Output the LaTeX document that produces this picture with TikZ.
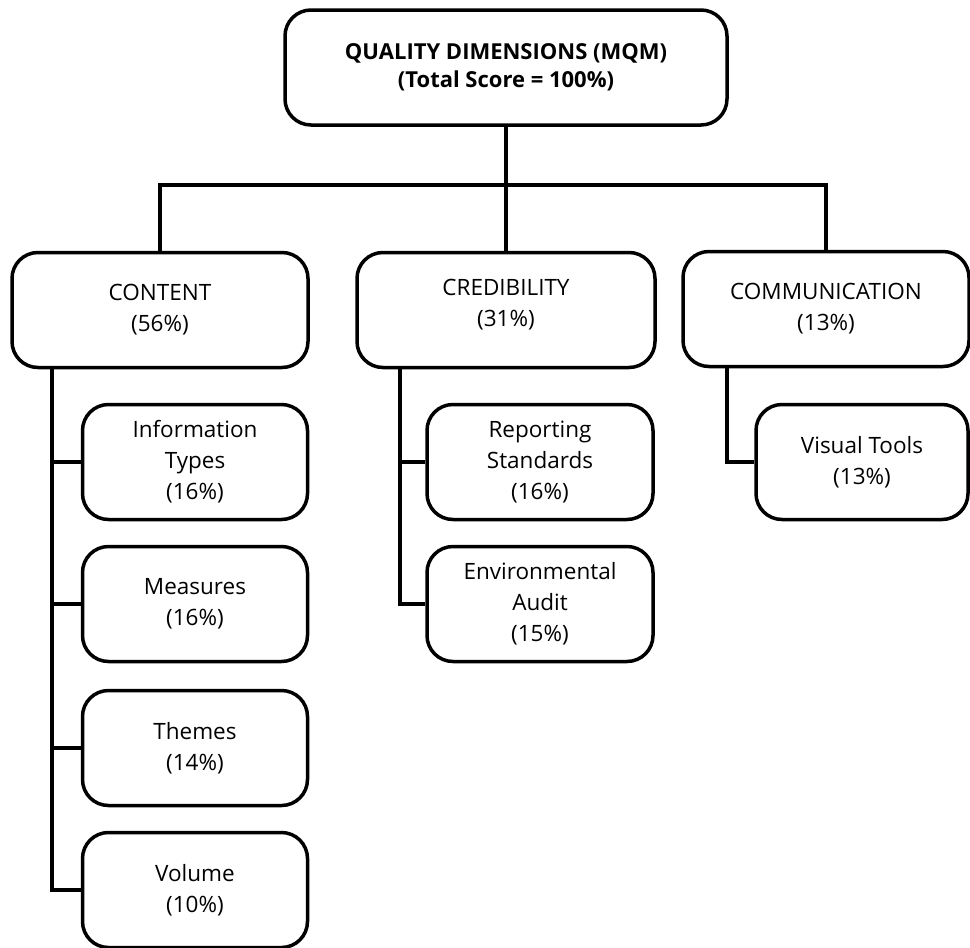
\documentclass[tikz,border=0pt]{standalone}
\usepackage{fontspec}
\setmainfont{Open Sans}
\begin{document}
\begin{tikzpicture}[x=1pt,y=-1pt,line width=3.5pt,
	box/.style={draw,rounded corners=26pt,align=center,inner sep=0pt,font=\fontsize{22.5}{31}\selectfont},
	headbox/.style={box,minimum width=442pt,minimum height=115pt,font=\bfseries\fontsize{22}{28}\selectfont},
	mainbox/.style={box,minimum height=115pt},
	subbox/.style={box,minimum height=115pt}]
	\useasboundingbox (0,0) rectangle (970,948);
	\node[headbox] (top) at (506,67.5) {QUALITY DIMENSIONS (MQM)\\(Total Score = 100\%)};
	\node[mainbox,minimum width=296pt] (content) at (160,310) {CONTENT\\(56\%)};
	\node[mainbox,minimum width=298pt] (cred) at (506,310) {CREDIBILITY\\(31\%)\\[-17pt]};
	\node[mainbox,minimum width=286pt] (comm) at (826,309) {COMMUNICATION\\(13\%)};
	\node[subbox,minimum width=225pt] (info) at (195,462) {Information\\Types\\(16\%)};
	\node[subbox,minimum width=225pt] (meas) at (195,604) {Measures\\(16\%)};
	\node[subbox,minimum width=225pt] (themes) at (195,748) {Themes\\(14\%)};
	\node[subbox,minimum width=225pt] (volume) at (195,890) {Volume\\(10\%)};
	\node[subbox,minimum width=226pt] (report) at (540,462) {Reporting\\Standards\\(16\%)};
	\node[subbox,minimum width=226pt] (audit) at (540,604) {Environmental\\Audit\\(15\%)};
	\node[subbox,minimum width=212pt] (visual) at (862,462) {Visual Tools\\(13\%)};
	\coordinate (bus) at (506,185);
	\draw (top.south) -- (bus);
	\draw (content.north) |- (bus) -| (comm.north);
	\draw (bus) -- (cred.north);
	\coordinate (ctrunk) at (52,367);
	\coordinate (rtrunk) at (400,367);
	\coordinate (vtrunk) at (727,366);
	\draw (ctrunk) |- (volume.west);
	\draw (ctrunk |- info.west) -- (info.west);
	\draw (ctrunk |- meas.west) -- (meas.west);
	\draw (ctrunk |- themes.west) -- (themes.west);
	\draw (rtrunk) |- (audit.west);
	\draw (rtrunk |- report.west) -- (report.west);
	\draw (vtrunk) |- (visual.west);
\end{tikzpicture}
\end{document}
